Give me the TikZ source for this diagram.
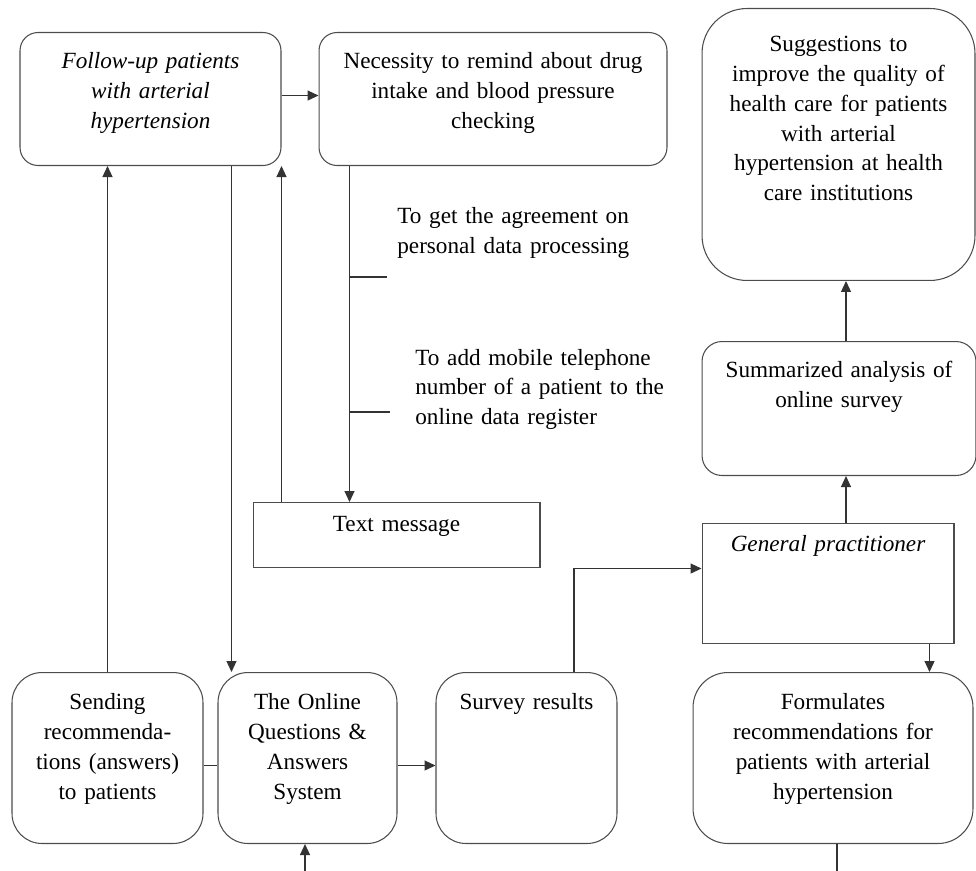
\documentclass[tikz,border=0pt]{standalone}
\usepackage{fontspec}
\setmainfont{Liberation Serif}
\usetikzlibrary{arrows.meta}

\begin{document}
\begin{tikzpicture}[x=0.02cm, y=-0.02cm]
    % Define styles
    \tikzset{
        box/.style={draw=black!70, line width=0.6pt, inner sep=0pt, align=center, anchor=north, font=\fontsize{13.2}{17}\selectfont},
        rbox/.style={box, rounded corners=0.6cm},
        note/.style={inner sep=0pt, align=left, anchor=base west, text width=5.4cm, font=\fontsize{13.2}{17}\selectfont},
        link/.style={draw=black!80, line width=0.7pt},
        arrow/.style={link, -{Triangle[length=0.22cm,width=0.2cm]}}
    }
    \useasboundingbox (0,0) rectangle (976,871);

    % Nodes
    \node[rbox, rounded corners=0.36cm, text width=5.22cm, text height=0.72cm, text depth=1.94cm] (followup) at (150.5,32) {\itshape Follow-up patients\\ with arterial\\ hypertension};
    \node[rbox, rounded corners=0.36cm, text width=6.96cm, text height=0.72cm, text depth=1.94cm] (necessity) at (493,32) {Necessity to remind about drug\\ intake and blood pressure\\ checking};
    \node[rbox, rounded corners=0.9cm, text width=5.46cm, text height=0.86cm, text depth=4.58cm] (suggest) at (838.5,8) {Suggestions to\\ improve the quality of\\ health care for patients\\ with arterial\\ hypertension at health\\ care institutions};
    \node[rbox, rounded corners=0.4cm, text width=5.48cm, text height=0.72cm, text depth=1.96cm] (summary) at (839,341) {Summarized analysis of\\ online survey};
    \node[box, text width=5.04cm, text height=0.56cm, text depth=1.84cm] (gp) at (828,523) {\itshape General practitioner};
    \node[box, text width=5.74cm, text height=0.58cm, text depth=0.72cm] (textmsg) at (396.5,502) {Text message};
    \node[rbox, text width=3.82cm, text height=0.74cm, text depth=2.68cm] (sending) at (107.5,672) {Sending\\ recommenda-\\ tions (answers)\\ to patients};
    \node[rbox, text width=3.58cm, text height=0.74cm, text depth=2.68cm] (qa) at (307.5,672) {The Online\\ Questions \&\\ Answers\\ System};
    \node[rbox, text width=3.62cm, text height=0.74cm, text depth=2.68cm] (survey) at (526.5,672) {Survey results};
    \node[rbox, rounded corners=0.7cm, text width=5.6cm, text height=0.74cm, text depth=2.68cm] (formulate) at (833,672) {Formulates\\ recommendations for\\ patients with arterial\\ hypertension};

    \node[note] (agree) at (397,224) {To get the agreement on\\ personal data processing};
    \node[note] (mobile) at (415,365) {To add mobile telephone\\ number of a patient to the\\ online data register};

    \coordinate (tickA) at (350,277);
    \coordinate (tickB) at (350,412);
    \coordinate (bottom) at (0,871);

    % Arrows
    \draw[arrow] ([yshift=0.07cm]followup.east) -- ([yshift=0.07cm]necessity.west);
    \draw[arrow] (sending.north) -- (sending.north |- followup.south);
    \draw[arrow] ([xshift=0.28cm]qa.north west |- followup.south) -- ([xshift=0.28cm]qa.north west);
    \draw[arrow] (textmsg.north -| followup.south east) -- (followup.south east);
    \draw[arrow] ([xshift=0.62cm]necessity.south west) -- ([xshift=0.62cm]necessity.south west |- textmsg.north);
    \draw[link] (tickA) -- ++(37,0);
    \draw[link] (tickB) -- ++(40,0);
    \draw[link] ([yshift=-0.15cm]sending.east) -- ([yshift=-0.15cm]qa.west);
    \draw[arrow] ([yshift=-0.15cm]qa.east) -- ([yshift=-0.15cm]survey.west);
    \draw[arrow] ([xshift=0.95cm]survey.north) |- ([yshift=0.3cm]gp.west);
    \draw[arrow] ([xshift=0.36cm]gp.north) -- ([xshift=0.36cm]gp.north |- summary.south);
    \draw[arrow] ([xshift=0.14cm]summary.north) -- ([xshift=0.14cm]summary.north |- suggest.south);
    \draw[arrow] ([xshift=-0.5cm]gp.south east) -- ([xshift=-0.5cm]gp.south east |- formulate.north);
    \draw[link] ([xshift=0.08cm]formulate.south) -- ([xshift=0.08cm]formulate.south |- bottom);
    \draw[arrow] ([xshift=-0.05cm]qa.south |- bottom) -- ([xshift=-0.05cm]qa.south);
\end{tikzpicture}
\end{document}
